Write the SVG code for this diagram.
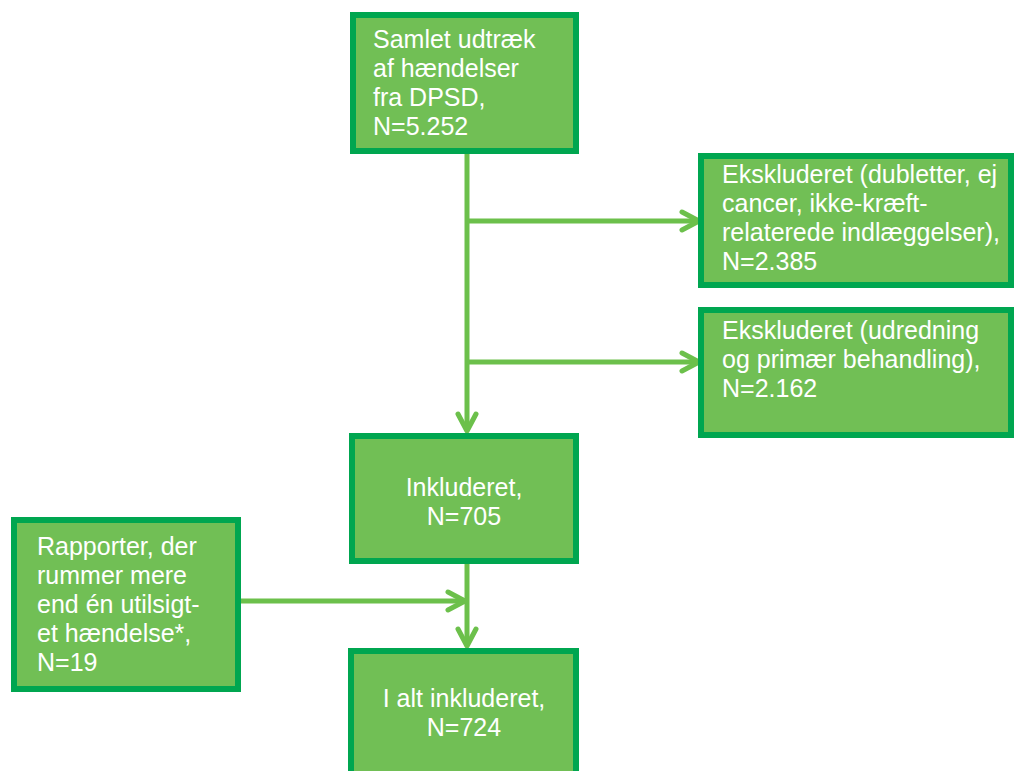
<svg xmlns="http://www.w3.org/2000/svg" width="1014" height="771" viewBox="0 0 1014 771">
<defs>
<style>
.box{fill:#71bf55;stroke:#00a650;stroke-width:6}
.t{font-family:"Liberation Sans",Arial,sans-serif;font-size:25px;fill:#ffffff}
.c{text-anchor:middle}
.ln{fill:none;stroke:#6cc04b;stroke-width:5}
</style>
<marker id="ah" viewBox="0 0 24 24" refX="21" refY="12" markerWidth="24" markerHeight="24" markerUnits="userSpaceOnUse" orient="auto">
<polyline points="4,3 21,12 4,21" fill="none" stroke="#6cc04b" stroke-width="5" stroke-linecap="round" stroke-linejoin="round"/>
</marker>
</defs>
<rect width="1014" height="771" fill="#ffffff"/>
<g id="connectors">
<line class="ln" x1="467" y1="154" x2="467" y2="431" marker-end="url(#ah)"/>
<line class="ln" x1="467" y1="221" x2="699" y2="221" marker-end="url(#ah)"/>
<line class="ln" x1="467" y1="362" x2="699" y2="362" marker-end="url(#ah)"/>
<line class="ln" x1="467" y1="564" x2="467" y2="646" marker-end="url(#ah)"/>
<line class="ln" x1="241" y1="601" x2="465" y2="601" marker-end="url(#ah)"/>
</g>
<g id="n1">
<rect class="box" x="353" y="15" width="223" height="136"/>
<text class="t" x="373"><tspan x="373" y="48">Samlet udtræk</tspan><tspan x="373" y="77">af hændelser</tspan><tspan x="373" y="106">fra DPSD,</tspan><tspan x="373" y="135">N=5.252</tspan></text>
</g>
<g id="n2">
<rect class="box" x="701" y="156" width="310" height="129"/>
<text class="t"><tspan x="722" y="183">Ekskluderet (dubletter, ej</tspan><tspan x="722" y="212">cancer, ikke-kræft-</tspan><tspan x="722" y="241">relaterede indlæggelser),</tspan><tspan x="722" y="270">N=2.385</tspan></text>
</g>
<g id="n3">
<rect class="box" x="701" y="310" width="310" height="125"/>
<text class="t"><tspan x="722" y="339">Ekskluderet (udredning</tspan><tspan x="722" y="368">og primær behandling),</tspan><tspan x="722" y="397">N=2.162</tspan></text>
</g>
<g id="n4">
<rect class="box" x="352" y="436" width="224" height="125"/>
<text class="t c"><tspan x="464" y="496">Inkluderet,</tspan><tspan x="464" y="525">N=705</tspan></text>
</g>
<g id="n5">
<rect class="box" x="14" y="520" width="224" height="169"/>
<text class="t"><tspan x="37" y="555">Rapporter, der</tspan><tspan x="37" y="584">rummer mere</tspan><tspan x="37" y="613">end én utilsigt-</tspan><tspan x="37" y="642">et hændelse*,</tspan><tspan x="37" y="671">N=19</tspan></text>
</g>
<g id="n6">
<rect class="box" x="351" y="651" width="225" height="130"/>
<text class="t c"><tspan x="464" y="707">I alt inkluderet,</tspan><tspan x="464" y="736">N=724</tspan></text>
</g>
</svg>
